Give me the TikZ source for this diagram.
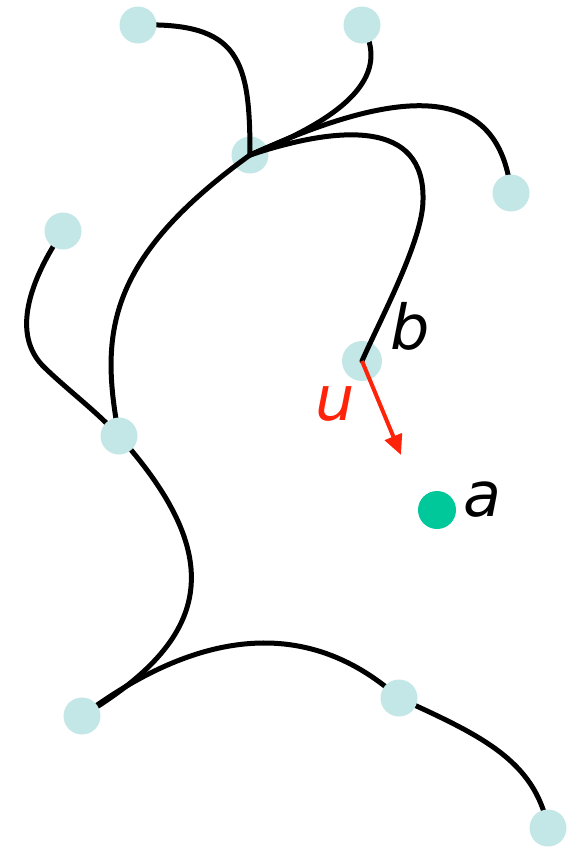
\documentclass[tikz,border=0pt]{standalone}
\usepackage{fontspec}
\setmainfont{DejaVu Sans}
\usepackage{xcolor}
\usetikzlibrary{arrows.meta}
\definecolor{vtxCyan}{RGB}{195,230,230}
\definecolor{ptGreen}{RGB}{0,200,155}
\definecolor{vecRed}{RGB}{255,35,10}
\pgfdeclarelayer{front}
\pgfsetlayers{main,front}

\begin{document}
\begin{tikzpicture}[x=1pt,y=-1pt,
  vtx/.style={circle,fill=vtxCyan,minimum size=37pt,inner sep=0pt},
  branch/.style={line width=5pt,black,line cap=round},
  uvec/.style={line width=4pt,vecRed,-{Triangle[length=20pt,width=18pt]}},
  lbl/.style={font=\fontsize{62}{66}\selectfont\itshape,inner sep=0pt}]
\useasboundingbox (0,0) rectangle (572,847);
% nodes under the branches
\node[vtx] (hub) at (250,155) {};
\node[vtx,minimum size=40pt] (bnode) at (362,361) {};
% nodes over the branches
\begin{pgfonlayer}{front}
\node[vtx] (t1) at (138,25) {};
\node[vtx] (t2) at (362,25) {};
\node[vtx] (r1) at (511,193) {};
\node[vtx] (l1) at (63,231) {};
\node[vtx] (mid) at (119,436) {};
\node[vtx] (low) at (82,716) {};
\node[vtx] (lowmid) at (399,698) {};
\node[vtx] (tipend) at (548,828) {};
\end{pgfonlayer}
\node[circle,fill=ptGreen,minimum size=38pt,inner sep=0pt] (pa) at (437,510) {};
% branches
\draw[branch] (t1.center) .. controls (240,22) and (250,60) .. (hub.center);
\draw[branch] (t2.center) .. controls (382,60) and (378,105) .. (hub.center);
\draw[branch] (hub.center) .. controls (375,98) and (498,68) .. (r1.center);
\draw[branch] (hub.center) .. controls (340,125) and (425,120) .. (423,200)
  .. controls (423,240) and (380,320) .. (bnode.center);
\draw[branch] (hub.center) .. controls (105,260) and (100,335) .. (mid.center);
\draw[branch] (l1.center) .. controls (30,280) and (10,335) .. (45,368)
  .. controls (70,392) and (95,410) .. (mid.center);
\draw[branch] (mid.center) .. controls (230,560) and (210,640) .. (low.center);
\draw[branch] (low.center) .. controls (170,650) and (290,600) .. (lowmid.center);
\draw[branch] (lowmid.center) .. controls (480,735) and (535,760) .. (tipend.center);
% vector u
\coordinate (uend) at (401,455);
\draw[uvec] (bnode.center) -- (uend);
% labels
\node[lbl] (lblb) at (410,326) {b};
\node[lbl,text=vecRed] (lblu) at (335,404) {u};
\node[lbl] (lbla) at (482,500) {a};
\end{tikzpicture}
\end{document}
